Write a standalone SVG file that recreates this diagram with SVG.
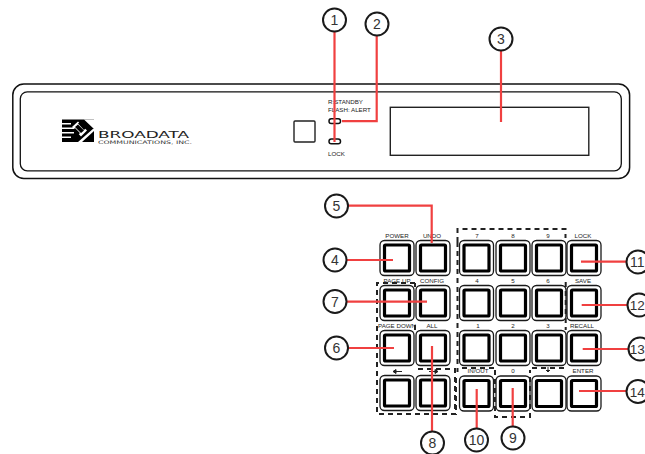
<svg xmlns="http://www.w3.org/2000/svg" width="645" height="454" viewBox="0 0 645 454">
<style>
.o{fill:none;stroke:#1a1a1a;stroke-width:1.3}
.i{fill:#fff;stroke:#000;stroke-width:3.2}
.c{fill:#fff;stroke:#1a1a1a;stroke-width:2}
.n{font:14px "Liberation Sans",Arial,sans-serif;fill:#333;text-anchor:middle}
.e{font-size:13.500px}
.t{font:6.200px "Liberation Sans",Arial,sans-serif;fill:#222;text-anchor:middle}
.d{fill:none;stroke:#222;stroke-width:2;stroke-dasharray:5 4}
.r{fill:none;stroke:#f04040;stroke-width:2.200}
</style>
<defs>
<g id="b"><rect class="o" x="0" y="0" width="34" height="35" rx="4.500"/><rect class="i" x="4.500" y="4.500" width="25" height="26" rx="1"/></g>
</defs>
<g id="panel">
<rect x="12.800" y="84" width="616.800" height="94.500" rx="11" fill="none" stroke="#111" stroke-width="1.500"/>
<rect x="20.300" y="91.800" width="601" height="79" rx="7" fill="none" stroke="#111" stroke-width="1.300"/>
</g>
<g id="logo">
<path d="M62 119.500h32v22.500h-32z" fill="#000"/>
<path d="M62 123h9v1.500h-9zM62 127.500h12v1.500h-12zM62 132h12v1.500h-12zM62 136.500h9v1.500h-9zM84 119.500l10 9.500v-9.500zM94 131l-12 11h-4l16-14z" fill="#fff"/>
<path d="M72 127l6-5.500 9 9-6 6z" fill="#fff"/>
<path d="M75 127l3-2.500 6 6-3 2.500zM78 123.500l2-1.500 6 6-2 2zM73 130l2-2 5 5-2 2z" fill="#000"/>
<text x="98" y="137.800" font-family="'DejaVu Sans',sans-serif" font-size="8.500" textLength="91" lengthAdjust="spacingAndGlyphs" fill="#222">BROADATA</text>
<text x="98" y="143.500" font-family="'DejaVu Sans',sans-serif" font-size="4.800" textLength="94" lengthAdjust="spacingAndGlyphs" fill="#333">COMMUNICATIONS, INC.</text>
</g>
<g id="front-switch"><rect x="294" y="121" width="21" height="21" rx="1" fill="#fff" stroke="#222" stroke-width="1.400"/></g>
<g id="leds">
<rect x="329" y="118.800" width="11.500" height="4.700" rx="2.300" fill="#fff" stroke="#111" stroke-width="1.500"/>
<rect x="329" y="139" width="11.500" height="4.700" rx="2.300" fill="#fff" stroke="#111" stroke-width="1.500"/>
<text class="t" x="328" y="104" style="text-anchor:start">R:STANDBY</text>
<text class="t" x="328" y="112" style="text-anchor:start">FLASH: ALERT</text>
<text class="t" x="328" y="156" style="text-anchor:start">LOCK</text>
</g>
<g id="display"><rect x="390.300" y="107.300" width="198.500" height="48" fill="#fff" stroke="#222" stroke-width="1.400"/></g>
<g id="buttons">
<use href="#b" x="380" y="240.500"/><use href="#b" x="416" y="240.500"/>
<use href="#b" x="380" y="285.500"/><use href="#b" x="416" y="285.500"/>
<use href="#b" x="380" y="330.500"/><use href="#b" x="416" y="330.500"/>
<use href="#b" x="380" y="375.500"/><use href="#b" x="416" y="375.500"/>
<use href="#b" x="459.500" y="240.500"/><use href="#b" x="496" y="240.500"/><use href="#b" x="532" y="240.500"/><use href="#b" x="567" y="240.500"/>
<use href="#b" x="459.500" y="285.500"/><use href="#b" x="496" y="285.500"/><use href="#b" x="532" y="285.500"/><use href="#b" x="567" y="285.500"/>
<use href="#b" x="459.500" y="330.500"/><use href="#b" x="496" y="330.500"/><use href="#b" x="532" y="330.500"/><use href="#b" x="567" y="330.500"/>
<use href="#b" x="459.500" y="376"/><use href="#b" x="496" y="376"/><use href="#b" x="532" y="376"/><use href="#b" x="567" y="376"/>
</g>
<g id="button-labels">
<text class="t" x="397" y="237.500">POWER</text><text class="t" x="432" y="237.500">UNDO</text>
<text class="t" x="397" y="283">PAGE UP</text><text class="t" x="432" y="283">CONFIG</text>
<text class="t" x="397" y="328">PAGE DOWN</text><text class="t" x="432" y="328">ALL</text>
<text class="t" x="477" y="237.500">7</text><text class="t" x="513" y="237.500">8</text><text class="t" x="548" y="237.500">9</text><text class="t" x="583" y="237.500">LOCK</text>
<text class="t" x="477" y="283">4</text><text class="t" x="513" y="283">5</text><text class="t" x="548" y="283">6</text><text class="t" x="583" y="283">SAVE</text>
<text class="t" x="478" y="328">1</text><text class="t" x="513" y="328">2</text><text class="t" x="548" y="328">3</text><text class="t" x="582" y="328">RECALL</text>
<text class="t" x="478" y="373">IN/OUT</text><text class="t" x="513" y="373">0</text><text class="t" x="583" y="373">ENTER</text>
<path d="M393 371.500h9M393 371.500l3-2v4zM429 371.500h9M438 371.500l-3-2v4zM548 367v5M546 370l2 2 2-2" fill="#222" stroke="#222" stroke-width="1"/>
</g>
<g id="dashes">
<path class="d" d="M415 283H377V414H455V369H415"/>
<path class="d" d="M415 325V331M415 283V287"/>
<path class="d" d="M457.500 242V229H565.500V238"/>
<path class="d" d="M457.500 242V372M456 378V415"/>
<path class="d" d="M462 368H495"/>
<path class="d" d="M495 370V417H530V370"/>
<path class="d" d="M532 368H565"/>
<path class="d" d="M565.700 282V330"/>
</g>
<g id="connectors">
<path class="r" d="M334.500 31.500V142"/>
<path class="r" d="M342 121.200H376.700V35.500"/>
<path class="r" d="M501 50.500V122"/>
<path class="r" d="M348 205.700H431.700V243"/>
<path class="r" d="M346 260H393"/>
<path class="r" d="M346 301.700H427"/>
<path class="r" d="M348 348H394"/>
<path class="r" d="M432 346V432"/>
<path class="r" d="M512.700 388V427"/>
<path class="r" d="M476.700 389V429"/>
<path class="r" d="M581 261.700H627"/>
<path class="r" d="M581.700 305H628"/>
<path class="r" d="M582.700 349H629"/>
<path class="r" d="M579 391H627"/>
</g>
<g id="n1"><circle class="c" cx="334.500" cy="20" r="11.500"/><text class="n" x="334.500" y="25">1</text></g>
<g id="n2"><circle class="c" cx="377" cy="24" r="11.500"/><text class="n" x="377" y="29">2</text></g>
<g id="n3"><circle class="c" cx="501" cy="39" r="11.500"/><text class="n" x="501" y="44">3</text></g>
<g id="n4"><circle class="c" cx="335" cy="260" r="11.500"/><text class="n" x="335" y="265">4</text></g>
<g id="n5"><circle class="c" cx="336.500" cy="206" r="11.500"/><text class="n" x="336.500" y="211">5</text></g>
<g id="n6"><circle class="c" cx="336.500" cy="348" r="11.500"/><text class="n" x="336.500" y="353">6</text></g>
<g id="n7"><circle class="c" cx="335" cy="301.500" r="11.500"/><text class="n" x="335" y="306.500">7</text></g>
<g id="n8"><circle class="c" cx="432.500" cy="443" r="11.500"/><text class="n" x="432.500" y="448">8</text></g>
<g id="n9"><circle class="c" cx="513" cy="438" r="11.500"/><text class="n" x="513" y="443">9</text></g>
<g id="n10"><circle class="c" cx="476.500" cy="440" r="11.500"/><text class="n" x="476.500" y="445">10</text></g>
<g id="n11"><circle class="c" cx="638" cy="262" r="11.500"/><text class="n" x="637.300" y="267">11</text></g>
<g id="n12"><circle class="c" cx="639" cy="305" r="11.500"/><text class="n e" x="637.200" y="310">12</text></g>
<g id="n13"><circle class="c" cx="640" cy="349" r="11.500"/><text class="n e" x="637.200" y="354">13</text></g>
<g id="n14"><circle class="c" cx="638" cy="391.500" r="11.500"/><text class="n e" x="637.200" y="396.500">14</text></g>
</svg>
